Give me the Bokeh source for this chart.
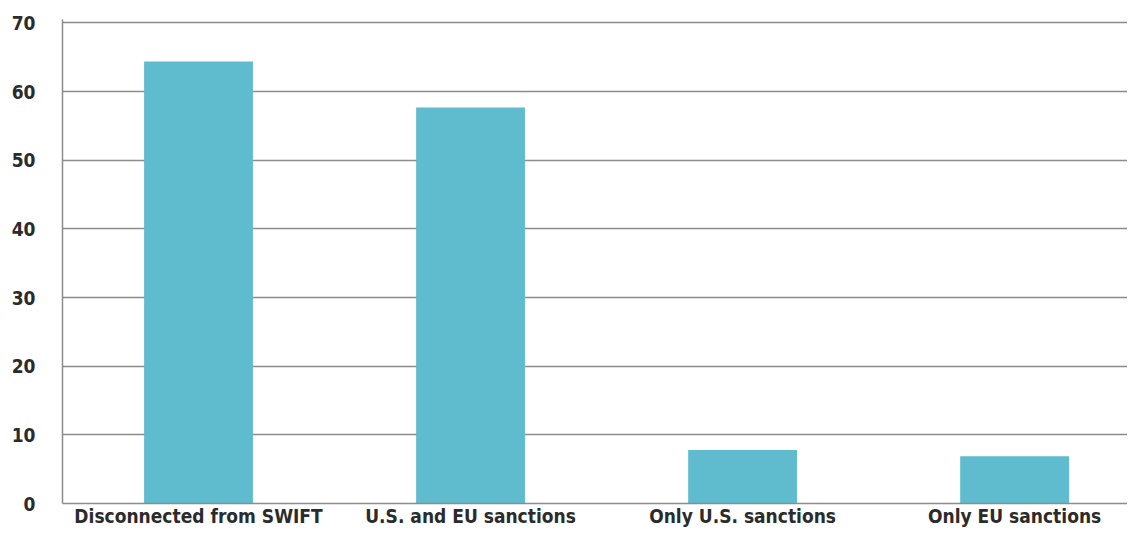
from bokeh.plotting import figure
from bokeh.models import ColumnDataSource, Range1d, FixedTicker
from bokeh.embed import file_html
from bokeh.resources import INLINE

categories = ["Disconnected from SWIFT", "U.S. and EU sanctions", "Only U.S. sanctions", "Only EU sanctions"]
values = [64.4, 57.7, 7.8, 6.9]
y_ticks = [0, 10, 20, 30, 40, 50, 60, 70]

positions = [i + 0.5 for i in range(len(categories))]
source = ColumnDataSource(data=dict(x=positions, val=values, cat=categories))

p = figure(
    x_range=Range1d(0, 3.915),
    y_range=Range1d(0, 70.5),
    width=1127, height=529,
    output_backend="svg", toolbar_location=None,
    min_border_left=62, min_border_top=19, min_border_right=0, min_border_bottom=26,
)
p.vbar(x="x", top="val", width=0.4, source=source, color="#5fbbce", line_color=None)

p.outline_line_color = None
p.xgrid.grid_line_color = None
p.ygrid.grid_line_color = "#8c8c8c"
p.ygrid.grid_line_width = 1.5
p.yaxis.ticker = FixedTicker(ticks=y_ticks)
p.xaxis.ticker = FixedTicker(ticks=positions)
p.xaxis.major_label_overrides = {pos: c for pos, c in zip(positions, categories)}

font = "DejaVu Sans Condensed"
for ax in (p.xaxis, p.yaxis):
    ax.major_label_text_font = font
    ax.major_label_text_font_size = "19px"
    ax.major_label_text_font_style = "bold"
    ax.major_label_text_color = "#2b2b2b"
    ax.major_tick_line_color = None
    ax.major_tick_out = 0
    ax.major_tick_in = 0
    ax.minor_tick_line_color = None
    ax.minor_tick_out = 0
    ax.axis_line_color = "#8c8c8c"
    ax.axis_line_width = 1.5

p.yaxis.major_label_standoff = 27
p.xaxis.major_label_standoff = 1

open("out.html", "w").write(file_html(p, INLINE))
